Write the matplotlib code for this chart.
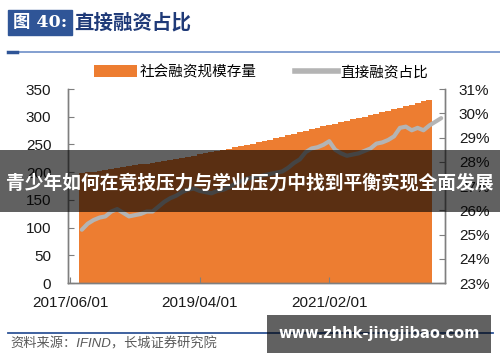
import numpy as np
import pandas as pd
import matplotlib
matplotlib.use('Agg')
import matplotlib.pyplot as plt
from matplotlib.patches import Rectangle, Patch
from matplotlib.lines import Line2D

plt.rcParams['font.family'] = ['Liberation Sans', 'Noto Sans CJK SC', 'DejaVu Sans']

# ---- data ----
axis_start = pd.Period('2017-06', freq='M')
tick_labels = ['2017/06/01', '2019/04/01', '2021/02/01']

# 社会融资规模存量 (万亿元), monthly from 2017/08
stock_start = pd.Period('2017-08', freq='M')
stock = [198.0, 199.6, 201.2, 202.9, 204.3, 205.6, 207.4, 209.1, 210.6, 212.3,
         214.0, 215.5, 217.4, 219.2, 220.8, 222.7, 224.5, 226.0, 228.1, 230.0,
         232.2, 234.1, 236.0, 238.3, 240.1, 242.5, 244.6, 246.8, 249.0, 251.3,
         253.9, 256.4, 258.8, 261.5, 264.0, 266.8, 269.3, 272.0, 274.6, 277.4,
         280.1, 282.5, 285.0, 287.6, 290.2, 292.8, 295.1, 297.9, 300.4, 303.0,
         305.8, 308.3, 311.0, 313.4, 316.2, 319.0, 321.5, 324.6, 327.8, 331.0]

# 直接融资占比 (%), monthly from 2017/08
ratio_start = pd.Period('2017-08', freq='M')
ratio = [25.2, 25.45, 25.6, 25.7, 25.75, 25.95, 26.05, 25.9, 25.75, 25.8,
         25.85, 25.95, 25.95, 26.15, 26.35, 26.5, 26.6, 26.75, 26.85, 26.9,
         26.8, 26.75, 26.7, 26.8, 26.85, 26.95, 27.1, 27.2, 27.3, 27.35,
         27.4, 27.45, 27.5, 27.55, 27.6, 27.75, 27.95, 28.1, 28.4, 28.55,
         28.6, 28.7, 28.85, 28.5, 28.35, 28.25, 28.3, 28.35, 28.45, 28.55,
         28.75, 28.8, 28.9, 29.05, 29.4, 29.45, 29.3, 29.4, 29.3, 29.5,
         29.65, 29.8]

def month_index(start, n):
    # months counted from the first axis label
    off = (start - axis_start).n
    return np.arange(off, off + n)

x_stock = month_index(stock_start, len(stock))
x_ratio = month_index(ratio_start, len(ratio))
x_ticks = [(pd.Period(t[:7].replace('/', '-'), freq='M') - axis_start).n for t in tick_labels]

orange = '#ED7D31'
grey_line = '#B4B4B4'
spine_c = '#7F7F7F'

fig = plt.figure(figsize=(5.0, 3.62), dpi=100)
ax = fig.add_axes([0.136, 0.218, 0.754, 0.536])

ax.bar(x_stock, stock, width=1.0, color=orange, linewidth=0)
ax.set_ylim(0, 350)
ax.set_yticks(np.arange(0, 351, 50))
ax.set_xlim(-0.35, 63.65)
ax.set_xticks(x_ticks)
ax.set_xticklabels(tick_labels)

ax2 = ax.twinx()
ax2.plot(x_ratio, ratio, color=grey_line, lw=3, solid_capstyle='round')
ax2.set_ylim(23, 31)
ax2.set_yticks(np.arange(23, 32, 1))
ax2.set_yticklabels([f'{v}%' for v in range(23, 32)])

for a in (ax, ax2):
    a.spines['top'].set_visible(False)
    for s in ('left', 'right', 'bottom'):
        a.spines[s].set_color(spine_c)
        a.spines[s].set_linewidth(1.0)
    a.tick_params(direction='in', length=4, color=spine_c, labelsize=11,
                  labelcolor='#1a1a1a', pad=4)
ax.tick_params(axis='y', pad=12)
ax.tick_params(axis='x', pad=9)
ax2.tick_params(axis='y', pad=10)

# legend
handles = [Patch(color=orange, linewidth=0),
           Line2D([0], [0], color=grey_line, lw=4)]
fig.legend(handles, ['社会融资规模存量', '直接融资占比'], ncol=2, frameon=False,
           loc='center', bbox_to_anchor=(0.522, 0.801), fontsize=10.5,
           handlelength=3.0, handleheight=0.9, handletextpad=0.15, columnspacing=2.6)

# title block
fig.patches.append(Rectangle((0.016, 0.903), 0.128, 0.069, transform=fig.transFigure,
                             color='#2F5597', zorder=2))
fig.text(0.08, 0.938, '图 40:', color='white', fontsize=12.5, fontweight='bold',
         ha='center', va='center', family=['DejaVu Serif', 'Noto Sans CJK SC'])
fig.text(0.148, 0.938, '直接融资占比', color='#1F3A78', fontsize=14, fontweight='bold',
         ha='left', va='center')
fig.add_artist(Line2D([0.016, 1.0], [0.856, 0.856], color='#6E8FC8', lw=1.2))
fig.add_artist(Line2D([0.016, 0.034], [0.856, 0.856], color='#2F5597', lw=2.5))

# source
fig.add_artist(Line2D([0.016, 0.985], [0.080, 0.080], color='#2F5597', lw=1.3))
fig.text(0.02, 0.050, '资料来源：IFIND，长城证券研究院', color='#595959', fontsize=9.5,
         style='italic', ha='left', va='center')

# overlay banner
fig.patches.append(Rectangle((0, 0.414), 1, 0.171, transform=fig.transFigure,
                             color='black', alpha=0.62, zorder=5, linewidth=0))
fig.text(0.5, 0.494, '青少年如何在竞技压力与学业压力中找到平衡实现全面发展', color='white',
         fontsize=13.5, fontweight='bold', ha='center', va='center', zorder=6)

# watermark
fig.patches.append(Rectangle((0.534, 0.025), 0.448, 0.105, transform=fig.transFigure,
                             color='black', alpha=0.62, zorder=5, linewidth=0))
fig.text(0.758, 0.078, 'www.zhhk-jingjibao.com', color='white', fontsize=10.5,
         fontweight='bold', ha='center', va='center', zorder=6, family='DejaVu Sans')

fig.savefig('out.png', dpi=100)
